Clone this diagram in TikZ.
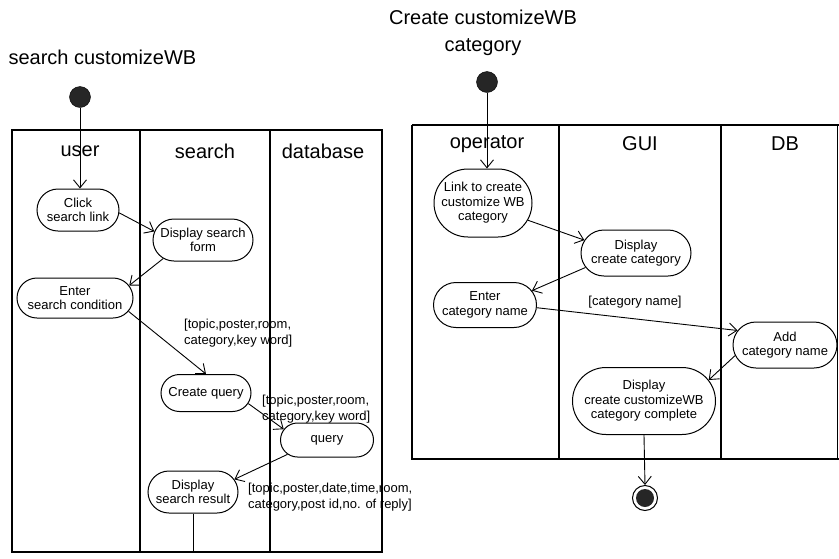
\documentclass[tikz,border=0pt]{standalone}
\usepackage{fontspec}
\setmainfont{Liberation Sans}
\usetikzlibrary{arrows.meta,shapes.misc}
\tikzset{
  act/.style={draw, rounded rectangle, line width=1pt, align=center,
    font=\fontsize{13}{14.5}\selectfont, inner sep=1pt},
  flow/.style={line width=0.9pt, arrows={-{Straight Barb[length=8pt,width=13pt,line width=0.9pt]}}},
  plain/.style={line width=0.9pt},
  lanebox/.style={line width=1.1pt},
  lanediv/.style={line width=1.5pt},
  hdr/.style={font=\fontsize{20}{24}\selectfont},
  ttl/.style={font=\fontsize{20}{27}\selectfont, align=center},
  lbl/.style={font=\fontsize{13}{16}\selectfont, align=left, inner sep=0pt},
  startdot/.style={circle, fill=black!85, draw=black, minimum size=21pt, inner sep=0pt},
  endring/.style={circle, draw=black, line width=1pt, minimum size=25pt, inner sep=0pt},
  enddot/.style={circle, fill=black!85, minimum size=18pt, inner sep=0pt},
}
\begin{document}
\begin{tikzpicture}[x=1pt,y=-1pt]
\useasboundingbox (0,0) rectangle (839,558);

% ---------- left diagram ----------
\node[ttl, anchor=west] (t1) at (5,57) {search customizeWB};
\node[startdot] (s1) at (80,97) {};
\draw[lanebox] (12,130) rectangle (382,552);
\draw[lanediv] (140,130) -- (140,552);
\draw[lanediv] (270,130) -- (270,552);
\node[hdr] (h1) at (80,151) {user};
\node[hdr] (h2) at (205,151) {search};
\node[hdr] (h3) at (323,151) {database};

\node[act, minimum width=84pt, minimum height=42pt] (click) at (78,210) {Click\\search link};
\node[act, minimum width=102pt, minimum height=42pt] (dsf) at (203,240) {Display search\\form};
\node[act, minimum width=118pt, minimum height=40pt] (enter) at (75,298) {Enter\\search condition};
\node[act, minimum width=92pt, minimum height=37pt] (cq) at (206,393) {Create query};
\node[act, minimum width=95pt, minimum height=34pt] (q) at (327,440) {query};
\node[act, minimum width=92pt, minimum height=42pt] (dsr) at (193,492) {Display\\search result};
\coordinate (lbot) at (195,552);

\draw[flow] (s1) -- (s1 |- click.north);
\draw[flow] (click.-4) -- (dsf.170);
\draw[flow] (dsf.205) -- (enter.13);
\draw[flow] (enter.-14) -- (cq.north);
\draw[flow] (cq.-14) -- (q.166);
\draw[flow] (q.200) -- (dsr.17);
\draw[plain] (dsr.south) -- (dsr.south |- lbot);

\node[lbl, anchor=west] (l1) at (184,333) {[topic,poster,room,\\category,key word]};
\node[lbl, anchor=west] (l2) at (262,409) {[topic,poster,room,\\category,key word]};
\node[lbl, anchor=west] (l3) at (248,497) {[topic,poster,date,time,room,\\category,post id,no. of reply]};

% ---------- right diagram ----------
\node[ttl] (t2) at (483,33) {Create customizeWB\\category};
\node[startdot] (s2) at (487,82) {};
\draw[lanebox] (412,125) -- (839,125);
\draw[lanebox] (412,125) -- (412,459) -- (839,459);
\draw[lanebox] (837.5,125) -- (837.5,459);
\draw[lanebox] (559,125) -- (559,459);
\draw[lanebox] (721,125) -- (721,459);
\node[hdr] (h4) at (487,144) {operator};
\node[hdr] (h5) at (640,144) {GUI};
\node[hdr] (h6) at (785,144) {DB};

\node[act, minimum width=100pt, minimum height=68pt] (link) at (483,203) {Link to create\\customize WB\\category};
\node[act, minimum width=112pt, minimum height=46pt] (dcc) at (636,253) {Display\\create category};
\node[act, minimum width=105pt, minimum height=45pt] (entc) at (485,305) {Enter\\category name};
\node[act, minimum width=106pt, minimum height=46pt] (add) at (785,345) {Add\\category name};
\node[act, minimum width=145pt, minimum height=67pt] (dcomp) at (644,401) {Display\\create customizeWB\\category complete};
\node[endring] (e2) at (645,498) {};
\node[enddot] (e2d) at (645,498) {};

\draw[flow] (s2) -- (s2 |- link.north);
\draw[flow] (link.-21) -- (dcc.166);
\draw[flow] (dcc.196) -- (entc.17);
\draw[flow] (entc.-3) -- (add.163);
\draw[flow] (add.192) -- (dcomp.18);
\draw[flow] (dcomp.south) -- (e2.north);

\node[lbl] (l4) at (635,302) {[category name]};
\end{tikzpicture}
\end{document}
